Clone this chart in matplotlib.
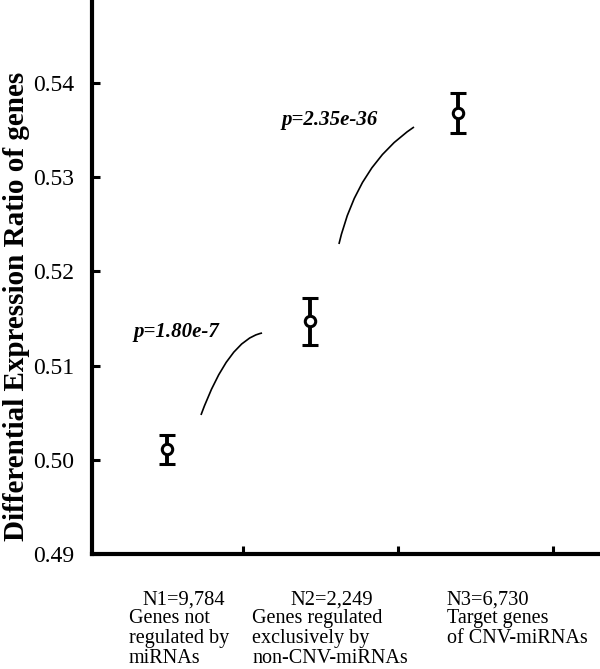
import matplotlib
matplotlib.use('Agg')
import matplotlib.pyplot as plt
from matplotlib.path import Path
from matplotlib.patches import PathPatch

# Data
x_pos = [0.51, 1.43, 2.39]
ratio = [0.5011, 0.5147, 0.5368]
err = [0.0015, 0.0025, 0.0021]
n_labels = ['N1=9,784', 'N2=2,249', 'N3=6,730']
group_labels = ['Genes not\nregulated by\nmiRNAs',
                'Genes regulated\nexclusively by\nnon-CNV-miRNAs',
                'Target genes\nof CNV-miRNAs']
y_ticks = [0.49, 0.50, 0.51, 0.52, 0.53, 0.54]
p_labels = ['p=1.80e-7', 'p=2.35e-36']
p_pos = [(0.568, 0.5136), (1.561, 0.5361)]
# bracket curves (start, control, end) in data coordinates
curves = [
    [(0.729, 0.50476), (0.906, 0.51272), (1.123, 0.51346)],
    [(1.619, 0.52291), (1.739, 0.53135), (2.103, 0.53533)],
]

plt.rcParams['font.family'] = ['Liberation Serif', 'DejaVu Serif']

W, H = 600, 669
fig = plt.figure(figsize=(W / 100, H / 100), dpi=100)
ax = fig.add_axes([92 / W, 1 - 554 / H, (598 - 92) / W, (554 - 2) / H])

ax.errorbar(x_pos, ratio, yerr=err, fmt='o', color='black', ecolor='black',
            elinewidth=2.8, capsize=6, capthick=3.2, markersize=7.5,
            markerfacecolor='white', markeredgewidth=2.2, zorder=3)

for c in curves:
    path = Path(c, [Path.MOVETO, Path.CURVE3, Path.CURVE3])
    ax.add_patch(PathPatch(path, facecolor='none', edgecolor='black', lw=1.2))

for txt, (px, py) in zip(p_labels, p_pos):
    ax.text(px, py, txt, ha='center', va='center', fontsize=15,
            fontweight='bold', fontstyle='italic')

ax.set_xlim(0.026, 3.29)
ax.set_ylim(0.49, 0.5486)
ax.set_xticks([1, 2, 3])
ax.set_xticklabels([])
ax.set_yticks(y_ticks)
ax.set_yticklabels([f'{v:.2f}' for v in y_ticks], fontsize=17)
ax.tick_params(axis='both', direction='in', length=6, width=2.2)
ax.tick_params(axis='y', pad=13)

for side in ['top', 'right']:
    ax.spines[side].set_visible(False)
for side in ['left', 'bottom']:
    ax.spines[side].set_linewidth(3)

# category labels under the axis (pixel positions converted to figure coords)
n_x = [184, 332, 488]
g_x = [129, 252, 447]
for i in range(3):
    fig.text(n_x[i] / W, 1 - 600 / H, n_labels[i], ha='center', va='center',
             fontsize=14.8)
    fig.text(g_x[i] / W, 1 - 609 / H, group_labels[i], ha='left', va='top',
             fontsize=14.5, linespacing=1.08)

fig.text(17 / W, 1 - 306 / H, 'Differential Expression Ratio of genes',
         rotation=90, ha='center', va='center', fontsize=21, fontweight='bold')

fig.savefig('out.png', dpi=100, facecolor='white')
